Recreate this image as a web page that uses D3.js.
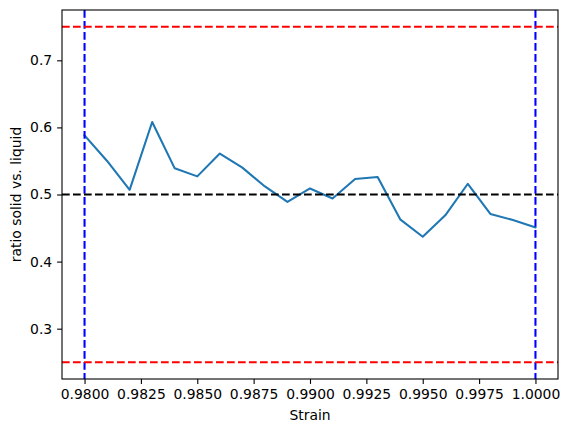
<!DOCTYPE html>
<html lang="en">
<head>
<meta charset="utf-8">
<title>ratio solid vs. liquid</title>
<script src="https://cdn.jsdelivr.net/npm/d3@7"></script>
<style>
  body { margin: 0; background: #fff; }
  .axis path, .axis line { stroke: #000; stroke-width: 1.1px; }
  .axis text { font-family: "DejaVu Sans", sans-serif; font-size: 13.9px; fill: #000; }
  .label { font-family: "DejaVu Sans", sans-serif; font-size: 13.9px; fill: #000; }
</style>
</head>
<body>
<script>
  // strain values and measured ratio
  var strain = [0.980, 0.981, 0.982, 0.983, 0.984, 0.985, 0.986, 0.987, 0.988, 0.989, 0.990,
                0.991, 0.992, 0.993, 0.994, 0.995, 0.996, 0.997, 0.998, 0.999, 1.000];
  var ratio = [0.588, 0.550, 0.507, 0.608, 0.539, 0.527, 0.561, 0.540, 0.512, 0.489, 0.509,
               0.494, 0.523, 0.526, 0.463, 0.437, 0.469, 0.516, 0.471, 0.462, 0.451];
  var xTicks = [0.98, 0.9825, 0.985, 0.9875, 0.99, 0.9925, 0.995, 0.9975, 1.0];
  var yTicks = [0.3, 0.4, 0.5, 0.6, 0.7];
  var hLines = [{ v: 0.75, c: "red" }, { v: 0.25, c: "red" }, { v: 0.5, c: "black" }];
  var vLines = [0.98, 1.0];

  var w = 569, h = 433;
  var padL = 62, padR = 558, padT = 10, padB = 379;

  var svg = d3.select("body").append("svg")
    .attr("width", w)
    .attr("height", h);

  var xScale = d3.scaleLinear().domain([0.979, 1.001]).range([padL, padR]);
  var yScale = d3.scaleLinear().domain([0.225, 0.775]).range([padB, padT]);

  var dash = "7.7,3.3";

  // data line first, reference lines drawn over it
  var line = d3.line()
    .x(function(d, i) { return xScale(strain[i]); })
    .y(function(d) { return yScale(d); });

  svg.append("path")
    .datum(ratio)
    .attr("d", line)
    .attr("fill", "none")
    .attr("stroke", "#1f77b4")
    .attr("stroke-width", 2.08)
    .attr("stroke-linejoin", "round")
    .attr("stroke-linecap", "square");

  svg.selectAll("line.v")
    .data(vLines)
    .enter()
    .append("line")
    .attr("class", "v")
    .attr("y1", padT).attr("y2", padB)
    .attr("x1", function(d) { return xScale(d); })
    .attr("x2", function(d) { return xScale(d); })
    .attr("stroke", "blue")
    .attr("stroke-width", 2.08)
    .attr("stroke-dasharray", dash);

  svg.selectAll("line.h")
    .data(hLines)
    .enter()
    .append("line")
    .attr("class", "h")
    .attr("x1", padL).attr("x2", padR)
    .attr("y1", function(d) { return yScale(d.v); })
    .attr("y2", function(d) { return yScale(d.v); })
    .attr("stroke", function(d) { return d.c; })
    .attr("stroke-width", 2.08)
    .attr("stroke-dasharray", dash);

  var xAxis = d3.axisBottom(xScale)
    .tickValues(xTicks)
    .tickSize(4.9)
    .tickPadding(4.9)
    .tickSizeOuter(0)
    .tickFormat(d3.format(".4f"));

  var yAxis = d3.axisLeft(yScale)
    .tickValues(yTicks)
    .tickSize(4.9)
    .tickPadding(4.9)
    .tickSizeOuter(0)
    .tickFormat(d3.format(".1f"));

  svg.append("g")
    .attr("class", "axis")
    .attr("transform", "translate(0," + padB + ")")
    .call(xAxis)
    .select(".domain").remove();

  svg.append("g")
    .attr("class", "axis")
    .attr("transform", "translate(" + padL + ",0)")
    .call(yAxis)
    .select(".domain").remove();

  // frame
  svg.append("rect")
    .attr("x", padL).attr("y", padT)
    .attr("width", padR - padL).attr("height", padB - padT)
    .attr("fill", "none")
    .attr("stroke", "#000")
    .attr("stroke-width", 1.1);

  svg.append("text")
    .attr("class", "label")
    .attr("x", (padL + padR) / 2)
    .attr("y", 420)
    .attr("text-anchor", "middle")
    .text("Strain");

  svg.append("text")
    .attr("class", "label")
    .attr("transform", "translate(21," + ((padT + padB) / 2) + ") rotate(-90)")
    .attr("text-anchor", "middle")
    .text("ratio solid vs. liquid");
</script>
</body>
</html>
